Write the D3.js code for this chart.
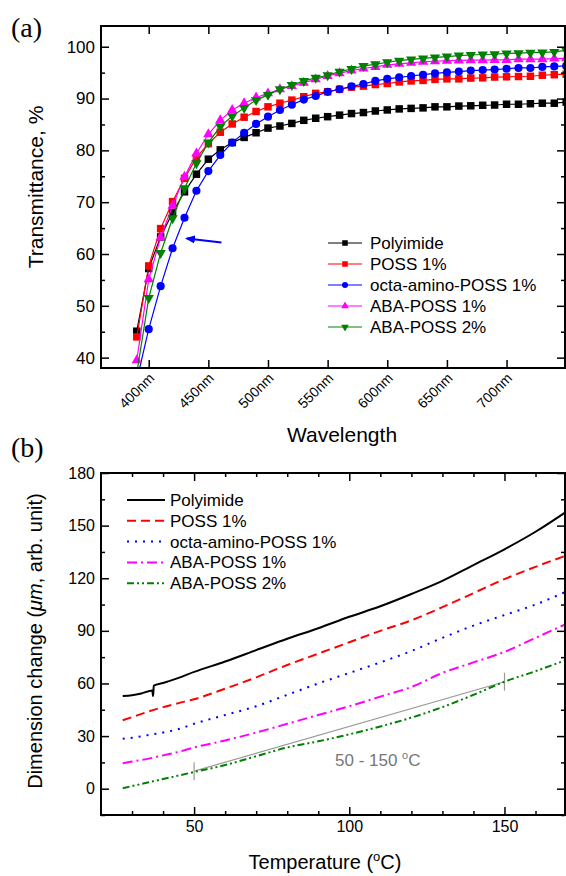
<!DOCTYPE html>
<html>
<head>
<meta charset="utf-8">
<script src="https://cdn.jsdelivr.net/npm/d3@7/dist/d3.min.js"></script>
<style>
  body { margin: 0; background: #fff; }
  svg { display: block; }
</style>
</head>
<body>
<script>
// ---- (a) transmittance data ----
var wavelength = [390, 400, 410, 420, 430, 440, 450, 460, 470, 480, 490, 500, 510, 520, 530, 540, 550, 560, 570,
                  580, 590, 600, 610, 620, 630, 640, 650, 660, 670, 680, 690, 700, 710, 720, 730, 740, 750];
var waveTicks = [400, 450, 500, 550, 600, 650, 700];
var transTicks = [40, 50, 60, 70, 80, 90, 100];

var polyimideT = [45.1, 57.2, 63.3, 68.0, 72.0, 75.4, 78.3, 80.1, 81.5, 82.5, 83.4, 84.3, 84.7, 85.2, 85.8, 86.2, 86.5, 86.8, 87.1,
                  87.3, 87.6, 87.8, 88.0, 88.1, 88.2, 88.4, 88.4, 88.55, 88.6, 88.7, 88.75, 88.9, 88.9, 89.0, 89.1, 89.1, 89.3];
var poss1T = [44.0, 57.7, 64.9, 70.1, 74.6, 78.6, 81.3, 83.5, 85.1, 86.4, 87.5, 88.4, 89.1, 89.7, 90.35, 91.0, 91.3, 91.8, 92.2,
              92.4, 92.7, 92.9, 93.2, 93.4, 93.5, 93.7, 93.8, 93.8, 93.95, 94.0, 94.15, 94.2, 94.25, 94.3, 94.5, 94.6, 94.7];
var octaT = [35.6, 45.5, 53.8, 61.1, 67.0, 72.2, 76.0, 79.1, 81.5, 83.4, 85.1, 86.5, 87.8, 88.8, 89.8, 90.5, 91.3, 91.8, 92.35,
             92.8, 93.4, 93.8, 94.1, 94.35, 94.6, 94.85, 95.05, 95.2, 95.4, 95.5, 95.6, 95.75, 95.9, 95.9, 96.1, 96.2, 96.3];
var aba1T = [39.5, 55.1, 63.2, 69.3, 74.9, 79.4, 83.1, 85.8, 87.8, 89.1, 90.2, 91.0, 91.8, 92.4, 93.05, 93.7, 94.35, 94.9, 95.4,
             95.8, 96.1, 96.5, 96.7, 96.9, 97.1, 97.2, 97.3, 97.35, 97.4, 97.4, 97.45, 97.45, 97.6, 97.6, 97.6, 97.7, 97.75];
var aba2T = [37.0, 51.5, 60.2, 66.9, 72.7, 77.5, 81.5, 84.6, 86.6, 88.2, 89.7, 90.7, 91.8, 92.6, 93.4, 94.0, 94.5, 95.2, 95.7,
             96.3, 96.6, 97.0, 97.3, 97.55, 97.75, 97.95, 98.1, 98.3, 98.4, 98.5, 98.55, 98.7, 98.75, 98.85, 98.9, 99.0, 99.3];

// ---- (b) dimension change data ----
var tempPI = [27, 30, 33, 36.5, 36.8, 37, 40, 45, 50, 60, 70, 80, 90, 100, 110, 120, 130, 140, 150, 160, 170];
var polyimideD = [52.9, 53.3, 54.3, 56.0, 52.8, 58.8, 60.3, 63.2, 66.6, 72.5, 79.0, 85.5, 91.5, 98.0, 104.0, 111.0, 118.5, 127.5, 136.5, 146.5, 158.0];
var tempC = [27, 30, 35, 40, 45, 50, 60, 70, 80, 90, 100, 110, 120, 130, 140, 150, 160, 170];
var poss1D = [39.0, 40.8, 43.8, 46.5, 48.8, 51.0, 57.0, 63.5, 70.5, 77.0, 83.5, 90.0, 96.0, 103.5, 111.5, 119.5, 126.5, 133.0];
var octaD = [28.5, 29.0, 30.5, 32.0, 34.0, 37.0, 42.0, 47.0, 53.5, 60.0, 66.0, 72.0, 78.5, 86.0, 93.0, 99.0, 105.0, 112.5];
var aba1D = [14.5, 15.5, 17.0, 19.0, 21.0, 23.5, 27.5, 32.0, 37.0, 42.0, 47.0, 52.5, 58.0, 66.0, 72.0, 78.0, 86.0, 94.0];
var aba2D = [0.3, 1.5, 3.5, 5.5, 7.5, 9.5, 13.5, 18.5, 23.5, 27.0, 31.0, 35.5, 40.5, 46.5, 53.5, 61.0, 67.0, 73.5];
var fitTemp = [50, 150];
var fitD = [10, 61];
var tempTicks = [50, 100, 150];
var dimTicks = [0, 30, 60, 90, 120, 150, 180];

var names = ["Polyimide", "POSS 1%", "octa-amino-POSS 1%", "ABA-POSS 1%", "ABA-POSS 2%"];

// styles
var colors = ["#000000", "#ff0000", "#0000ff", "#ff00ff", "#008000"];
var symbols = [d3.symbolSquare, d3.symbolSquare, d3.symbolCircle, d3.symbolTriangle, d3.symbolTriangle];
var symRotate = [0, 0, 0, 0, 180];
var symSize = [56, 56, 52, 46, 46];
var dashes = [null, "9,5", "2,6", "10,4,2,4", "7,3,2,3,2,3"];
var font = "'Liberation Sans', Arial, sans-serif";
var serif = "'Liberation Serif', 'Times New Roman', serif";

var dimA = { left: 101, right: 565, top: 26, bottom: 368 };
var dimB = { left: 101, right: 565, top: 473, bottom: 815 };

var svg = d3.select("body").append("svg")
  .attr("width", 566)
  .attr("height", 876)
  .style("font-family", font);

var defs = svg.append("defs");
defs.append("clipPath").attr("id", "clipA").append("rect")
  .attr("x", dimA.left).attr("y", dimA.top)
  .attr("width", dimA.right - dimA.left + 4).attr("height", dimA.bottom - dimA.top);
defs.append("clipPath").attr("id", "clipB").append("rect")
  .attr("x", dimB.left).attr("y", dimB.top)
  .attr("width", dimB.right - dimB.left + 4).attr("height", dimB.bottom - dimB.top);
defs.append("marker")
  .attr("id", "arrow")
  .attr("viewBox", "0 0 10 10")
  .attr("refX", 8).attr("refY", 5)
  .attr("markerWidth", 5).attr("markerHeight", 5)
  .attr("orient", "auto")
  .append("path")
  .attr("d", "M0,1 L10,5 L0,9 Z")
  .attr("fill", "#0000ff");

// scales
var xA = d3.scaleLinear().domain([360, 749]).range([dimA.left, dimA.right]);
var yA = d3.scaleLinear().domain([38, 104]).range([dimA.bottom, dimA.top]);
var xB = d3.scaleLinear().domain([20, 169.5]).range([dimB.left, dimB.right]);
var yB = d3.scaleLinear().domain([-15, 180]).range([dimB.bottom, dimB.top]);

// draws ticks on all four sides, ticks point inward
function drawAxes(x, y, dim, xMajor, xMinor, yMajor, yMinor, xFmt, fontSize) {
  var major = 8, minor = 4;
  var xb = svg.append("g").attr("transform", "translate(0," + dim.bottom + ")")
    .call(d3.axisBottom(x).tickValues(xMajor).tickSize(-major).tickSizeOuter(0).tickPadding(6).tickFormat(xFmt));
  svg.append("g").attr("transform", "translate(0," + dim.bottom + ")")
    .call(d3.axisBottom(x).tickValues(xMinor).tickSize(-minor).tickSizeOuter(0).tickFormat(""));
  svg.append("g").attr("transform", "translate(0," + dim.top + ")")
    .call(d3.axisTop(x).tickValues(xMajor).tickSize(-major).tickSizeOuter(0).tickFormat(""));
  svg.append("g").attr("transform", "translate(0," + dim.top + ")")
    .call(d3.axisTop(x).tickValues(xMinor).tickSize(-minor).tickSizeOuter(0).tickFormat(""));
  var yl = svg.append("g").attr("transform", "translate(" + dim.left + ",0)")
    .call(d3.axisLeft(y).tickValues(yMajor).tickSize(-major).tickSizeOuter(0).tickPadding(6));
  svg.append("g").attr("transform", "translate(" + dim.left + ",0)")
    .call(d3.axisLeft(y).tickValues(yMinor).tickSize(-minor).tickSizeOuter(0).tickFormat(""));
  svg.append("g").attr("transform", "translate(" + dim.right + ",0)")
    .call(d3.axisRight(y).tickValues(yMajor).tickSize(-major).tickSizeOuter(0).tickFormat(""));
  svg.append("g").attr("transform", "translate(" + dim.right + ",0)")
    .call(d3.axisRight(y).tickValues(yMinor).tickSize(-minor).tickSizeOuter(0).tickFormat(""));

  svg.selectAll(".tick line").attr("stroke-width", 1.5);
  svg.selectAll(".domain").remove();
  xb.selectAll("text").attr("font-size", fontSize).attr("font-family", font).attr("fill", "#000");
  yl.selectAll("text").attr("font-size", fontSize).attr("font-family", font).attr("fill", "#000");

  // frame
  svg.append("rect")
    .attr("x", dim.left).attr("y", dim.top)
    .attr("width", dim.right - dim.left).attr("height", dim.bottom - dim.top)
    .attr("fill", "none").attr("stroke", "#000").attr("stroke-width", 2);
  return xb;
}

// ================= (a) =================
var seriesA = [polyimideT, poss1T, octaT, aba1T, aba2T];
var gA = svg.append("g").attr("clip-path", "url(#clipA)");

var lineA = d3.line()
  .x(function(d, i) { return xA(wavelength[i]); })
  .y(function(d) { return yA(d); });

seriesA.forEach(function(vals, s) {
  gA.append("path")
    .attr("d", lineA(vals))
    .attr("fill", "none")
    .attr("stroke", colors[s])
    .attr("stroke-width", 1.2);
  gA.selectAll(".pt" + s)
    .data(vals)
    .enter()
    .append("path")
    .attr("class", "pt" + s)
    .attr("d", d3.symbol().type(symbols[s]).size(symSize[s]))
    .attr("transform", function(d, i) {
      return "translate(" + xA(wavelength[i]) + "," + yA(d) + ") rotate(" + symRotate[s] + ")";
    })
    .attr("fill", colors[s]);
});

// blue arrow pointing at octa-amino curve
svg.append("line")
  .attr("x1", xA(461)).attr("y1", yA(62.2))
  .attr("x2", xA(432)).attr("y2", yA(63.0))
  .attr("stroke", "#0000ff")
  .attr("stroke-width", 2)
  .attr("marker-end", "url(#arrow)");

var axA = drawAxes(xA, yA, dimA, waveTicks, [], transTicks, [45, 55, 65, 75, 85, 95],
  function(d) { return d + "nm"; }, "17px");

// rotated wavelength labels
axA.selectAll(".tick text")
  .attr("font-size", "14px")
  .attr("text-anchor", "end")
  .attr("x", 0).attr("y", 0).attr("dy", 0)
  .attr("transform", "translate(6,11) rotate(-45)");

// legend (a)
var legA = svg.append("g").attr("transform", "translate(328,243)");
names.forEach(function(n, s) {
  var row = legA.append("g").attr("transform", "translate(0," + s * 21 + ")");
  row.append("line").attr("x1", 0).attr("x2", 34).attr("y1", 0).attr("y2", 0)
    .attr("stroke", colors[s]).attr("stroke-width", 1);
  row.append("path")
    .attr("d", d3.symbol().type(symbols[s]).size(symSize[s] * 0.55))
    .attr("transform", "translate(17,0) rotate(" + symRotate[s] + ")")
    .attr("fill", colors[s]);
  row.append("text").attr("x", 42).attr("y", 6)
    .attr("font-size", "17px").text(n);
});

// labels (a)
svg.append("text")
  .attr("transform", "translate(43,187) rotate(-90)")
  .attr("text-anchor", "middle")
  .attr("font-size", "21px")
  .text("Transmittance, %");

svg.append("text")
  .attr("x", 342).attr("y", 442)
  .attr("text-anchor", "middle")
  .attr("font-size", "21px")
  .text("Wavelength");

svg.append("text")
  .attr("x", 11).attr("y", 37)
  .attr("font-size", "28px")
  .style("font-family", serif)
  .text("(a)");

// ================= (b) =================
var seriesB = [
  { t: tempPI, v: polyimideD },
  { t: tempC, v: poss1D },
  { t: tempC, v: octaD },
  { t: tempC, v: aba1D },
  { t: tempC, v: aba2D }
];
var gB = svg.append("g").attr("clip-path", "url(#clipB)");

// linear fit 50 - 150 C
var fitLine = d3.line()
  .x(function(d, i) { return xB(fitTemp[i]); })
  .y(function(d) { return yB(d); });
gB.append("path")
  .attr("d", fitLine(fitD))
  .attr("fill", "none")
  .attr("stroke", "#999")
  .attr("stroke-width", 1.2);
fitTemp.forEach(function(t, i) {
  gB.append("line")
    .attr("x1", xB(t)).attr("x2", xB(t))
    .attr("y1", yB(fitD[i]) - 9).attr("y2", yB(fitD[i]) + 9)
    .attr("stroke", "#999").attr("stroke-width", 1.2);
});

seriesB.forEach(function(s, k) {
  var line = d3.line()
    .curve(d3.curveMonotoneX)
    .x(function(d, i) { return xB(s.t[i]); })
    .y(function(d) { return yB(d); });
  gB.append("path")
    .attr("d", line(s.v))
    .attr("fill", "none")
    .attr("stroke", colors[k])
    .attr("stroke-width", 2)
    .attr("stroke-dasharray", dashes[k]);
});

drawAxes(xB, yB, dimB, tempTicks, [30, 40, 60, 70, 80, 90, 110, 120, 130, 140, 160],
  dimTicks, [-15, 15, 45, 75, 105, 135, 165], function(d) { return d; }, "16px");

// legend (b)
var legB = svg.append("g").attr("transform", "translate(127,500)");
names.forEach(function(n, s) {
  var row = legB.append("g").attr("transform", "translate(0," + s * 20.8 + ")");
  row.append("line").attr("x1", 0).attr("x2", 38).attr("y1", 0).attr("y2", 0)
    .attr("stroke", colors[s]).attr("stroke-width", 2)
    .attr("stroke-dasharray", dashes[s]);
  row.append("text").attr("x", 43).attr("y", 6)
    .attr("font-size", "17px").text(n);
});

// annotation
var ann = svg.append("text")
  .attr("x", 335).attr("y", 766)
  .attr("font-size", "17px")
  .attr("fill", "#777");
ann.append("tspan").text("50 - 150 ");
ann.append("tspan").attr("dy", -7).attr("font-size", "11px").text("o");
ann.append("tspan").attr("dy", 7).text("C");

// labels (b)
var yLab = svg.append("text")
  .attr("transform", "translate(42,641) rotate(-90)")
  .attr("text-anchor", "middle")
  .attr("font-size", "20px");
yLab.append("tspan").text("Dimension change (");
yLab.append("tspan").attr("font-style", "italic").text("\u03bcm");
yLab.append("tspan").text(", arb. unit)");

var xLab = svg.append("text")
  .attr("x", 325).attr("y", 869)
  .attr("text-anchor", "middle")
  .attr("font-size", "20px");
xLab.append("tspan").text("Temperature (");
xLab.append("tspan").attr("dy", -8).attr("font-size", "13px").text("o");
xLab.append("tspan").attr("dy", 8).text("C)");

svg.append("text")
  .attr("x", 11).attr("y", 457)
  .attr("font-size", "28px")
  .style("font-family", serif)
  .text("(b)");
</script>
</body>
</html>
